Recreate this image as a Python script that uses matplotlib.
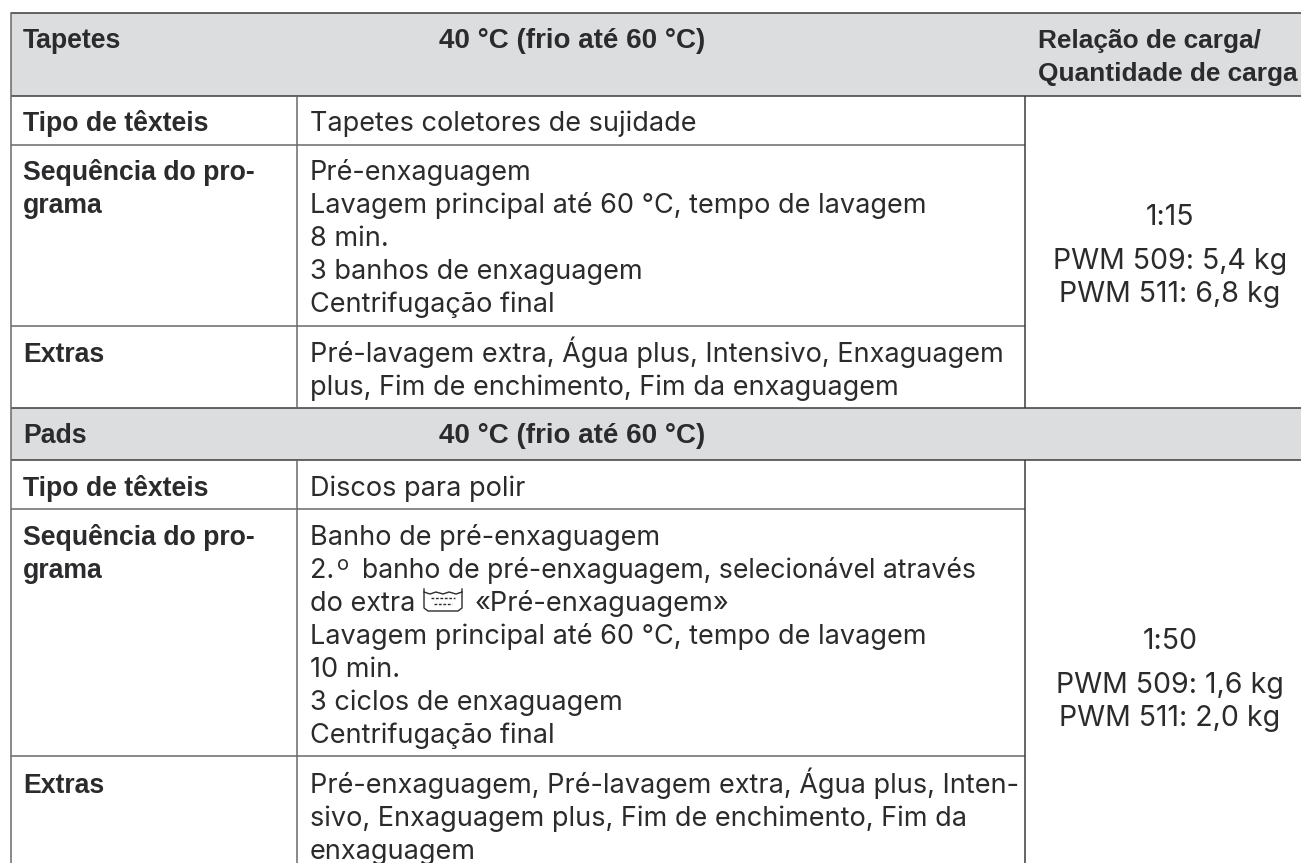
import matplotlib
matplotlib.use('Agg')
import matplotlib.pyplot as plt
from matplotlib.patches import Rectangle

# Table text
header_1 = ['Tapetes', '40 °C (frio até 60 °C)']
header_3 = ['Relação de carga/', 'Quantidade de carga']
header_2 = ['Pads', '40 °C (frio até 60 °C)']
row_labels_1 = [['Tipo de têxteis'], ['Sequência do pro-', 'grama'], ['Extras']]
row_labels_2 = [['Tipo de têxteis'], ['Sequência do pro-', 'grama'], ['Extras']]
row_text_1 = [
    ['Tapetes coletores de sujidade'],
    ['Pré-enxaguagem', 'Lavagem principal até 60 °C, tempo de lavagem', '8 min.',
     '3 banhos de enxaguagem', 'Centrifugação final'],
    ['Pré-lavagem extra, Água plus, Intensivo, Enxaguagem',
     'plus, Fim de enchimento, Fim da enxaguagem'],
]
row_text_2 = [
    ['Discos para polir'],
    ['Banho de pré-enxaguagem', '2.', 'do extra', 'Lavagem principal até 60 °C, tempo de lavagem',
     '10 min.', '3 ciclos de enxaguagem', 'Centrifugação final'],
    ['Pré-enxaguagem, Pré-lavagem extra, Água plus, Inten-',
     'sivo, Enxaguagem plus, Fim de enchimento, Fim da',
     'enxaguagem'],
]
load_1 = ['1:15', 'PWM 509: 5,4 kg', 'PWM 511: 6,8 kg']
load_2 = ['1:50', 'PWM 509: 1,6 kg', 'PWM 511: 2,0 kg']

# Layout in pixels
W, H = 1301, 863
X_LEFT, X_COL1, X_COL2 = 11, 297, 1025
Y_TOP, Y_HEAD1, Y_BAND, Y_HEAD2 = 13, 96, 408, 460
Y_ROWS_1 = [145, 326]
Y_ROWS_2 = [509, 756]
LINE = 33
INK = '#2b2b2d'
BAND = '#dcddde'
GRID = '#6a6a6a'
FS = 19.5
FS_BOLD = 19.2
REG = 'Inter'
BOLD = 'Liberation Sans'

fig = plt.figure(figsize=(W / 100, H / 100), dpi=100)
ax = fig.add_axes([0, 0, 1, 1])
ax.set_xlim(0, W)
ax.set_ylim(H, 0)
ax.axis('off')

ax.add_patch(Rectangle((X_LEFT, Y_TOP), W - X_LEFT, Y_HEAD1 - Y_TOP, fc=BAND, ec='none'))
ax.add_patch(Rectangle((X_LEFT, Y_BAND), W - X_LEFT, Y_HEAD2 - Y_BAND, fc=BAND, ec='none'))

# Grid lines
for y in [Y_TOP, Y_HEAD1, Y_BAND, Y_HEAD2]:
    ax.plot([X_LEFT, W], [y, y], color='#3c3c3c', lw=1.1, solid_capstyle='butt')
for y in Y_ROWS_1 + Y_ROWS_2:
    ax.plot([X_LEFT, X_COL2], [y, y], color=GRID, lw=1.1, solid_capstyle='butt')
ax.plot([X_LEFT, X_LEFT], [Y_TOP, H], color=GRID, lw=1.1)
for y0, y1 in [(Y_HEAD1, Y_BAND), (Y_HEAD2, H)]:
    ax.plot([X_COL1, X_COL1], [y0, y1], color=GRID, lw=1.1, solid_capstyle='butt')
    ax.plot([X_COL2, X_COL2], [y0, y1], color='#3c3c3c', lw=1.1, solid_capstyle='butt')


def put_lines(x, y, lines, bold=False, ha='left', fs=None):
    # y is the baseline of the first line
    for i, s in enumerate(lines):
        ax.text(x, y + i * LINE, s, ha=ha, va='baseline', color=INK,
                fontsize=fs or (FS_BOLD if bold else FS),
                family=BOLD if bold else REG, fontweight='bold' if bold else 'normal')


# First block
put_lines(23, 48, header_1[:1], bold=True)
put_lines(439, 48, header_1[1:], bold=True, fs=20)
put_lines(1038, 48, header_3, bold=True, fs=18.9)
for lines, y in zip(row_labels_1, [131, 180, 362]):
    put_lines(23, y, lines, bold=True)
for lines, y in zip(row_text_1, [131, 180, 362]):
    put_lines(310, y, lines)
put_lines(1170, 225, load_1[:1], ha='center', fs=20.5)
put_lines(1170, 269, load_1[1:], ha='center', fs=20.5)

# Second block
put_lines(23, 443, header_2[:1], bold=True)
put_lines(439, 443, header_2[1:], bold=True, fs=20)
for lines, y in zip(row_labels_2, [496, 545, 793]):
    put_lines(23, y, lines, bold=True)
for lines, y in zip(row_text_2, [496, 545, 793]):
    put_lines(310, y, lines)
put_lines(1170, 649, load_2[:1], ha='center', fs=20.5)
put_lines(1170, 693, load_2[1:], ha='center', fs=20.5)

# Second line of Pads sequence has a raised o, third line has the wash symbol
ax.text(337, 570, 'o', color=INK, fontsize=14.5, family=REG, va='baseline')
ax.text(362, 578, 'banho de pré-enxaguagem, selecionável através', color=INK, fontsize=19.2,
        family=REG, va='baseline')
ax.text(475, 611, '«Pré-enxaguagem»', color=INK, fontsize=19.6, family=REG, va='baseline')
ax.plot([424, 424, 428, 458, 462, 462], [589, 608, 611, 611, 608, 589], color=INK, lw=1.0)
ax.plot([424, 430, 436, 443, 449, 456, 462], [592, 594, 592, 594, 592, 594, 592], color=INK, lw=1.0)
ax.plot([431, 455], [598, 598], color=INK, lw=1.0, ls=(0, (2, 1.2)))
ax.plot([434, 452], [604, 604], color=INK, lw=1.0, ls=(0, (2, 1.2)))

fig.savefig('out.png', dpi=100, facecolor='white')
